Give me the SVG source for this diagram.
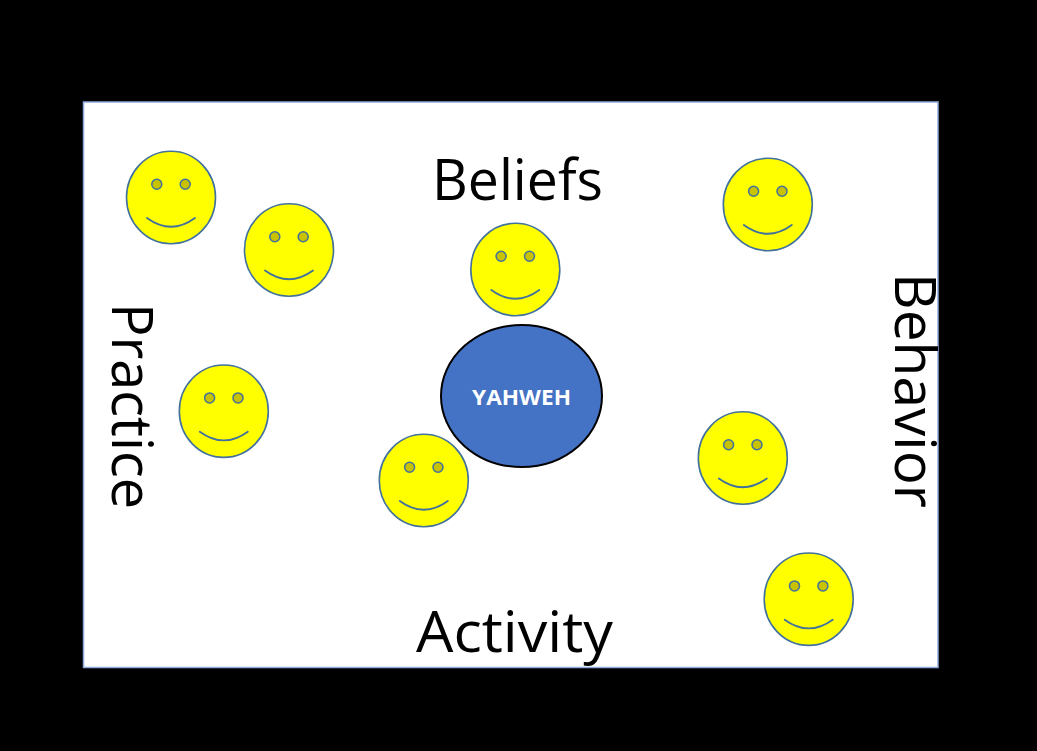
<svg xmlns="http://www.w3.org/2000/svg" xmlns:xlink="http://www.w3.org/1999/xlink" width="1037" height="751" viewBox="0 0 1037 751">
<style>
.face{fill:#FFFF00;stroke:#41719C;stroke-width:1.6}
.eye{fill:#C9C200;stroke:#41719C;stroke-width:1.5}
.mouth{fill:none;stroke:#41719C;stroke-width:1.8;stroke-linecap:round}
.lbl{font-family:"Open Sans","Liberation Sans",sans-serif;font-size:57px;fill:#000}
.god{font-family:"Open Sans","Liberation Sans",sans-serif;font-size:21px;font-weight:bold;fill:#FFFFFF}
</style>
<defs>
<g id="smiley">
<ellipse class="face" cx="0" cy="0" rx="44.5" ry="46.2"/>
<circle class="eye" cx="-14.2" cy="-13.3" r="5"/>
<circle class="eye" cx="14.2" cy="-13.3" r="5"/>
<path class="mouth" d="M-24 20.5 Q0 38 24 20.5"/>
</g>
</defs>
<rect x="0" y="0" width="1037" height="751" fill="#000"/>
<rect id="frame" x="83.5" y="102" width="854.5" height="565.5" fill="#FFFFFF" stroke="#8EA9DB" stroke-width="1.5"/>
<g id="connectors"/>
<g id="label-beliefs"><text class="lbl" x="432" y="200" textLength="171" lengthAdjust="spacingAndGlyphs">Beliefs</text></g>
<g id="label-activity"><text class="lbl" x="416" y="652" textLength="197" lengthAdjust="spacingAndGlyphs">Activity</text></g>
<g id="label-practice"><text class="lbl" transform="translate(112,303) rotate(90)" textLength="206" lengthAdjust="spacingAndGlyphs">Practice</text></g>
<g id="label-behavior"><text class="lbl" transform="translate(895,273) rotate(90)" textLength="235" lengthAdjust="spacingAndGlyphs">Behavior</text></g>
<g id="smiley1"><use xlink:href="#smiley" href="#smiley" transform="translate(171,197.5)"/></g>
<g id="smiley2"><use xlink:href="#smiley" href="#smiley" transform="translate(289,250)"/></g>
<g id="smiley3"><use xlink:href="#smiley" href="#smiley" transform="translate(515.3,269.5)"/></g>
<g id="smiley4"><use xlink:href="#smiley" href="#smiley" transform="translate(767.8,204.5)"/></g>
<g id="smiley5"><use xlink:href="#smiley" href="#smiley" transform="translate(223.8,411.2)"/></g>
<g id="smiley6"><use xlink:href="#smiley" href="#smiley" transform="translate(423.8,480.5)"/></g>
<g id="smiley7"><use xlink:href="#smiley" href="#smiley" transform="translate(742.8,458)"/></g>
<g id="smiley8"><use xlink:href="#smiley" href="#smiley" transform="translate(808.7,599.2)"/></g>
<g id="yahweh">
<ellipse cx="521.5" cy="396" rx="80.5" ry="71" fill="#4472C4" stroke="#000" stroke-width="2"/>
<text class="god" x="521.5" y="404.5" text-anchor="middle" textLength="99" lengthAdjust="spacingAndGlyphs">YAHWEH</text>
</g>
</svg>
